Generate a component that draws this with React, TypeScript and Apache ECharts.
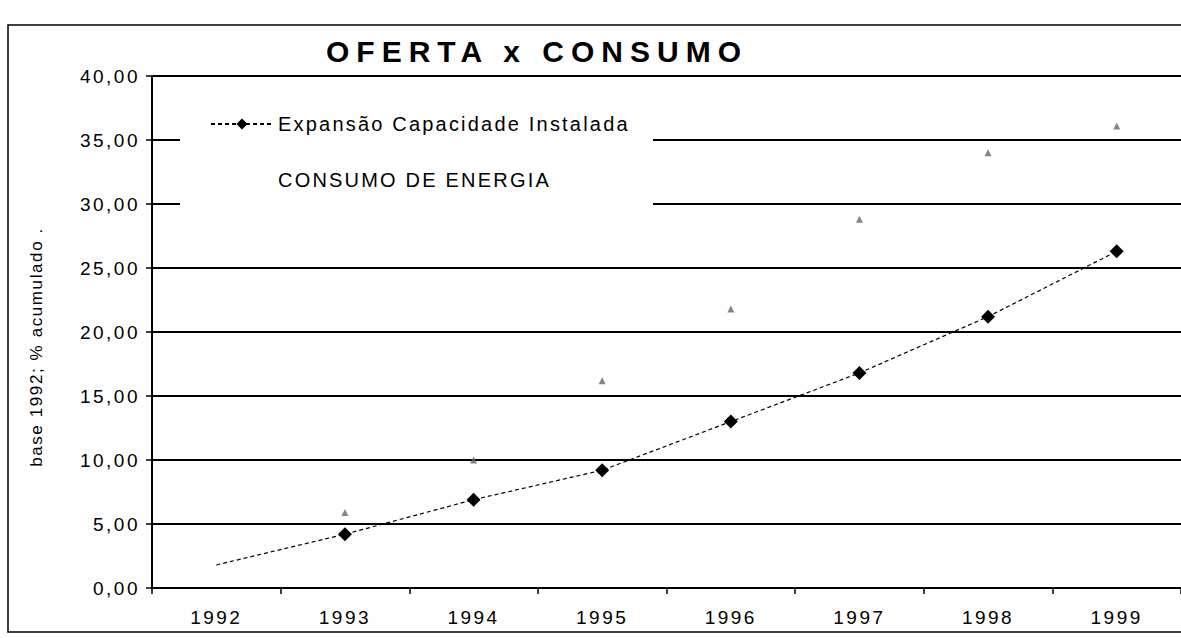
import React, { useEffect, useRef } from 'react';
import * as echarts from 'echarts';

const years = ['1992', '1993', '1994', '1995', '1996', '1997', '1998', '1999'];
const expansao = [1.8, 4.2, 6.9, 9.2, 13.0, 16.8, 21.2, 26.3];
const consumo = [null, 5.9, 10.0, 16.2, 21.8, 28.8, 34.0, 36.1];

const FONT = '"Liberation Sans", Arial, sans-serif';

export default function App() {
  const ref = useRef<HTMLDivElement>(null);

  useEffect(() => {
    if (!ref.current) return;
    const chart = echarts.init(ref.current, undefined, { renderer: 'svg' });
    chart.setOption({
      animation: false,
      backgroundColor: '#fff',
      title: {
        text: 'OFERTA x CONSUMO',
        left: 532,
        top: 31,
        textAlign: 'center',
        textStyle: { fontSize: 30, fontWeight: 'bold', fontFamily: FONT, color: '#000' },
      },
      legend: {
        orient: 'vertical',
        left: 180,
        top: 100,
        padding: [14, 87, 24, 30],
        itemWidth: 62,
        itemHeight: 14,
        itemGap: 36,
        backgroundColor: '#fff',
        textStyle: { fontSize: 20, fontFamily: FONT, color: '#000' },
        data: [
          { name: 'Expansão Capacidade Instalada' },
          { name: 'CONSUMO DE ENERGIA', itemStyle: { opacity: 0 } },
        ],
      },
      graphic: [
        {
          type: 'rect',
          shape: { x: 8, y: 25, width: 1300, height: 607 },
          style: { fill: 'none', stroke: '#000', lineWidth: 1.5 },
          silent: true,
          z: 100,
        },
        {
          type: 'text',
          x: 36,
          y: 347,
          rotation: Math.PI / 2,
          style: {
            text: 'base 1992; % acumulado .',
            font: '17px "Liberation Sans", Arial, sans-serif',
            fill: '#000',
            textAlign: 'center',
            textVerticalAlign: 'middle',
          },
          silent: true,
        },
      ],
      grid: { left: 152, top: 76, width: 1040, bottom: 50 },
      xAxis: {
        type: 'category',
        data: years,
        boundaryGap: true,
        axisLine: { lineStyle: { color: '#000', width: 2 } },
        axisTick: { show: true, length: 6, lineStyle: { color: '#000', width: 1.5 } },
        axisLabel: { color: '#000', fontSize: 19, fontFamily: FONT, margin: 20 },
      },
      yAxis: {
        type: 'value',
        min: 0,
        max: 40,
        interval: 5,
        axisLine: { show: true, lineStyle: { color: '#000', width: 2 } },
        axisTick: { show: true, length: 6, lineStyle: { color: '#000', width: 1.5 } },
        axisLabel: {
          color: '#000',
          fontSize: 19,
          fontFamily: FONT,
          margin: 12,
          formatter: (v: number) => v.toFixed(2).replace('.', ','),
        },
        splitLine: { show: true, lineStyle: { color: '#000', width: 2 } },
      },
      series: [
        {
          name: 'Expansão Capacidade Instalada',
          type: 'line',
          data: expansao.map((v, i) => (i === 0 ? { value: v, symbol: 'none' } : v)),
          symbol: 'diamond',
          symbolSize: 14,
          itemStyle: { color: '#000' },
          lineStyle: { color: '#000', width: 1.2, type: [4, 3] },
          z: 5,
        },
        {
          name: 'CONSUMO DE ENERGIA',
          type: 'scatter',
          data: consumo,
          symbol: 'triangle',
          symbolSize: 7,
          itemStyle: { color: '#666' },
          z: 5,
        },
      ],
    });
    return () => chart.dispose();
  }, []);

  return (
    <>
      <style>{`
        #chartbox text[style*="30px"] { letter-spacing: 7px; }
        #chartbox text[style*="20px"] { letter-spacing: 2.2px; }
        #chartbox text[style*="19px"] { letter-spacing: 2.5px; }
        #chartbox text[style*="17px"] { letter-spacing: 1.6px; }
      `}</style>
      <div
        id="chartbox"
        ref={ref}
        style={{ position: 'fixed', left: 0, top: 0, width: 1181, height: 638, background: '#fff' }}
      />
    </>
  );
}
